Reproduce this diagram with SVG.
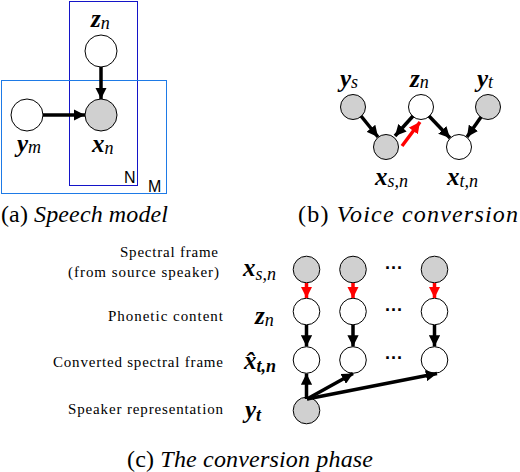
<svg xmlns="http://www.w3.org/2000/svg" width="520" height="472" viewBox="0 0 520 472">
<style>
.n{stroke:#000;stroke-width:1}
.w{fill:#fff}
.g{fill:#d0d0d0}
.a{stroke:#000;stroke-width:3.5;fill:none}
.r{stroke:#f00;stroke-width:3.5;fill:none}
.serif{font-family:"Liberation Serif","Times New Roman",serif}
.m{font-size:25px}
.b{font-weight:bold;font-style:italic}
.s{font-style:italic;font-size:18px}
.sb{font-style:italic;font-weight:bold;font-size:18px}
.lab{font-size:15px}
.cap{font-size:24px}
.it{font-style:italic}
.pl{font-family:"Liberation Sans",Arial,sans-serif;font-size:16px}
.dots{font-family:"Liberation Sans",Arial,sans-serif;font-weight:bold;font-size:18px;text-anchor:middle}
</style>
<defs>
<marker id="ah" viewBox="0 0 10 10" refX="10" refY="5" markerWidth="3.2" markerHeight="3.2" orient="auto" markerUnits="strokeWidth"><path d="M0,0 L10,5 L0,10 z" fill="#000"/></marker>
<marker id="rh" viewBox="0 0 10 10" refX="10" refY="5" markerWidth="3.2" markerHeight="3.2" orient="auto" markerUnits="strokeWidth"><path d="M0,0 L10,5 L0,10 z" fill="#f00"/></marker>
</defs>
<rect width="520" height="472" fill="#fff"/>

<g class="serif">
<!-- Panel (a) -->
<g id="plateN"><rect x="69.5" y="1.5" width="68" height="184" fill="none" stroke="#1414c8" stroke-width="1"/><text class="pl" x="124" y="183">N</text></g>
<g id="plateM"><rect x="1.5" y="80.5" width="165" height="113" fill="none" stroke="#1e7ae6" stroke-width="1"/><text class="pl" x="148" y="192">M</text></g>
<g id="a_z"><circle class="n w" cx="101" cy="51" r="16"/><text class="m" x="91" y="27"><tspan class="b">z</tspan><tspan class="s" dy="2">n</tspan></text></g>
<g id="a_x"><circle class="n g" cx="101" cy="115" r="16"/><text class="m" x="92" y="152"><tspan class="b">x</tspan><tspan class="s" dy="2">n</tspan></text></g>
<g id="a_y"><circle class="n w" cx="27" cy="115" r="16"/><text class="m" x="17" y="152"><tspan class="b">y</tspan><tspan class="s" dy="1">m</tspan></text></g>

<!-- Panel (b) -->
<g id="b_ys"><circle class="n g" cx="353" cy="107" r="12.5"/><text class="m" x="340" y="87"><tspan class="b">y</tspan><tspan class="s" dy="1">s</tspan></text></g>
<g id="b_zn"><circle class="n w" cx="421" cy="107" r="12.5"/><text class="m" x="410" y="87"><tspan class="b">z</tspan><tspan class="s" dy="1">n</tspan></text></g>
<g id="b_yt"><circle class="n g" cx="488" cy="107" r="12.5"/><text class="m" x="477" y="87"><tspan class="b">y</tspan><tspan class="s" dy="1">t</tspan></text></g>
<g id="b_xs"><circle class="n g" cx="386" cy="147" r="12.5"/><text class="m" x="375" y="185"><tspan class="b">x</tspan><tspan class="s" dy="2">s,n</tspan></text></g>
<g id="b_xt"><circle class="n w" cx="459" cy="147" r="12.5"/><text class="m" x="447" y="185"><tspan class="b">x</tspan><tspan class="s" dy="2">t,n</tspan></text></g>

<!-- Panel (c) -->
<g id="c_labels" class="lab">
<text x="120" y="257" textLength="98">Spectral frame</text>
<text x="68" y="277" textLength="151">(from source speaker)</text>
<text x="108" y="321" textLength="115">Phonetic content</text>
<text x="53" y="367" textLength="170">Converted spectral frame</text>
<text x="68" y="414" textLength="155">Speaker representation</text>
</g>
<g id="c_symbols" class="m">
<text x="243" y="276"><tspan class="b">x</tspan><tspan class="s" dy="4">s,n</tspan></text>
<text x="255" y="324"><tspan class="b">z</tspan><tspan class="s" dy="2">n</tspan></text>
<text x="244" y="369"><tspan class="b">x̂</tspan><tspan class="sb" dy="3">t,n</tspan></text>
<text x="245" y="418"><tspan class="b">y</tspan><tspan class="sb" dy="3">t</tspan></text>
</g>
<g id="c_x1"><circle class="n g" cx="306.5" cy="269.5" r="13.3"/></g>
<g id="c_x2"><circle class="n g" cx="353" cy="269.5" r="13.3"/></g>
<g id="c_x3"><circle class="n g" cx="434.5" cy="269.5" r="13.3"/></g>
<g id="c_z1"><circle class="n w" cx="306.5" cy="311.5" r="13.3"/></g>
<g id="c_z2"><circle class="n w" cx="353" cy="311.5" r="13.3"/></g>
<g id="c_z3"><circle class="n w" cx="434.5" cy="311.5" r="13.3"/></g>
<g id="c_h1"><circle class="n w" cx="306.5" cy="360" r="13.3"/></g>
<g id="c_h2"><circle class="n w" cx="353" cy="360" r="13.3"/></g>
<g id="c_h3"><circle class="n w" cx="434.5" cy="360" r="13.3"/></g>
<g id="c_yt"><circle class="n g" cx="306.5" cy="410.5" r="13.3"/></g>
<g id="c_dots">
<text class="dots" x="394" y="274">···</text>
<text class="dots" x="394" y="316">···</text>
<text class="dots" x="394" y="364">···</text>
</g>

<!-- Captions -->
<g id="captions" class="cap">
<text x="1" y="222" textLength="167"><tspan>(a) </tspan><tspan class="it">Speech model</tspan></text>
<text x="298" y="222" textLength="220"><tspan>(b) </tspan><tspan class="it">Voice conversion</tspan></text>
<text x="127" y="467" textLength="246"><tspan>(c) </tspan><tspan class="it">The conversion phase</tspan></text>
</g>
</g>

<!-- Connectors -->
<g id="connectors">
<line class="a" x1="101" y1="67" x2="101" y2="99" marker-end="url(#ah)"/>
<line class="a" x1="43" y1="115" x2="85" y2="115" marker-end="url(#ah)"/>
<line class="a" x1="361" y1="116" x2="378" y2="137" marker-end="url(#ah)"/>
<line class="a" x1="413" y1="116" x2="395" y2="136" marker-end="url(#ah)"/>
<line class="r" x1="402" y1="146" x2="420" y2="122" marker-end="url(#rh)"/>
<line class="a" x1="429" y1="116" x2="450" y2="138" marker-end="url(#ah)"/>
<line class="a" x1="481" y1="117" x2="467" y2="137" marker-end="url(#ah)"/>
<line class="r" x1="306.5" y1="283" x2="306.5" y2="298" marker-end="url(#rh)"/>
<line class="r" x1="353" y1="283" x2="353" y2="298" marker-end="url(#rh)"/>
<line class="r" x1="434.5" y1="283" x2="434.5" y2="298" marker-end="url(#rh)"/>
<line class="a" x1="306.5" y1="325" x2="306.5" y2="346.5" marker-end="url(#ah)"/>
<line class="a" x1="353" y1="325" x2="353" y2="346.5" marker-end="url(#ah)"/>
<line class="a" x1="434.5" y1="325" x2="434.5" y2="346.5" marker-end="url(#ah)"/>
<line class="a" x1="306.5" y1="399" x2="306.5" y2="373.5" marker-end="url(#ah)"/>
<line class="a" x1="307" y1="399" x2="353" y2="373.5" marker-end="url(#ah)"/>
<line class="a" x1="307" y1="399" x2="437" y2="373.5" marker-end="url(#ah)"/>
</g>
</svg>
